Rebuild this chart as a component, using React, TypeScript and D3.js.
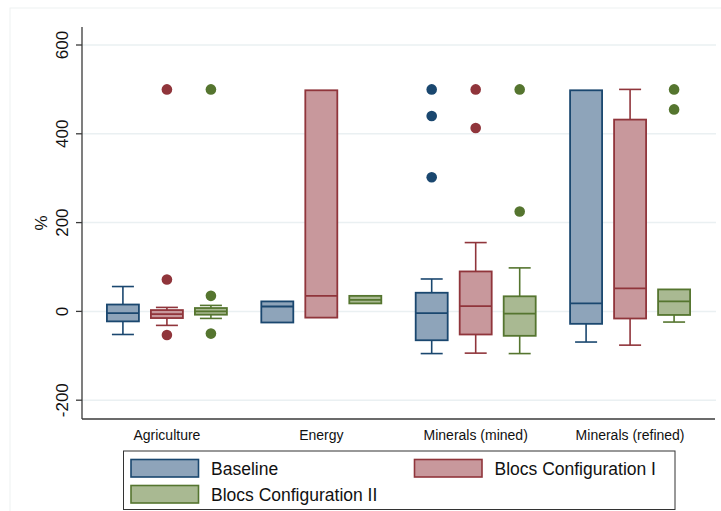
import React from "react";
import * as d3 from "d3";

const categories = ["Agriculture", "Energy", "Minerals (mined)", "Minerals (refined)"];
const seriesNames = ["Baseline", "Blocs Configuration I", "Blocs Configuration II"];
const yTicks = [-200, 0, 200, 400, 600];

// Per-series box statistics, one entry per category
const baselineLow = [-52, -25, -95, -69];
const baselineQ1 = [-22.5, -25, -65, -28];
const baselineMed = [-4, 11, -4, 18];
const baselineQ3 = [15.5, 22.5, 42, 498];
const baselineHigh = [56, 22.5, 73, 498];
const baselineOut = [[], [], [500, 440, 302], []];

const bloc1Low = [-31.5, -14, -94, -76];
const bloc1Q1 = [-15, -14, -52, -16];
const bloc1Med = [-6, 35, 12, 52];
const bloc1Q3 = [3, 498, 90, 432];
const bloc1High = [9, 498, 155, 500];
const bloc1Out = [[500, 72, -53], [], [500, 413], []];

const bloc2Low = [-15.8, 18, -95, -24];
const bloc2Q1 = [-7.4, 18, -55, -8];
const bloc2Med = [0, 26, -5, 22.5];
const bloc2Q3 = [7.6, 35, 34, 49.5];
const bloc2High = [13.5, 35, 98, 49.5];
const bloc2Out = [[500, 35, -50], [], [500, 225], [500, 455]];

const strokes = ["#1a476f", "#90353b", "#55752f"];
const fills = ["#8ea4ba", "#c8989c", "#a9b992"];

const FONT = "'Liberation Sans', Arial, Helvetica, sans-serif";

export default function App() {
  const W = 721;
  const H = 511;
  const plotLeft = 82;
  const plotRight = 715;
  const plotTop = 27;
  const plotBottom = 419;

  const y = d3.scaleLinear().domain([-200, 600]).range([400.2, 45]);
  const x = d3.scalePoint<string>().domain(categories).range([plotLeft, plotRight]).padding(0.55);
  const offsets = d3.scalePoint<number>().domain([0, 1, 2]).range([-44, 44]);
  const boxW = 32;
  const capW = 22;

  const series = [
    { low: baselineLow, q1: baselineQ1, med: baselineMed, q3: baselineQ3, high: baselineHigh, out: baselineOut },
    { low: bloc1Low, q1: bloc1Q1, med: bloc1Med, q3: bloc1Q3, high: bloc1High, out: bloc1Out },
    { low: bloc2Low, q1: bloc2Q1, med: bloc2Med, q3: bloc2Q3, high: bloc2High, out: bloc2Out },
  ];

  const legendItems = [
    { i: 0, sx: 131, sy: 459.5, tx: 211, ty: 474.5 },
    { i: 1, sx: 414.5, sy: 459.5, tx: 494.5, ty: 474.5 },
    { i: 2, sx: 131, sy: 485.5, tx: 211, ty: 500.5 },
  ];

  return (
    <svg
      width={W}
      height={H}
      style={{ position: "absolute", left: 0, top: 0, background: "#ffffff" }}
      fontFamily={FONT}
    >
      <rect x={0} y={0} width={W} height={H} fill="#ffffff" />
      <rect x={10} y={8} width={W} height={H} fill="none" stroke="#eef1f1" strokeWidth={1} />

      {/* gridlines */}
      {yTicks.map((t) => (
        <line key={"g" + t} x1={plotLeft} x2={716} y1={y(t)} y2={y(t)} stroke="#eaf0f2" strokeWidth={1.5} />
      ))}

      {/* axes */}
      <line x1={plotLeft} x2={plotLeft} y1={plotTop} y2={plotBottom} stroke="#3a3a3a" strokeWidth={1.3} />
      <line x1={plotLeft} x2={plotRight} y1={plotBottom} y2={plotBottom} stroke="#3a3a3a" strokeWidth={1.3} />
      {yTicks.map((t) => (
        <g key={"t" + t}>
          <line x1={plotLeft - 6} x2={plotLeft} y1={y(t)} y2={y(t)} stroke="#3a3a3a" strokeWidth={1.3} />
          <text
            transform={`translate(68,${y(t)}) rotate(-90)`}
            textAnchor="middle"
            fontSize={17}
            fill="#111"
          >
            {t}
          </text>
        </g>
      ))}
      <text transform={`translate(47,223) rotate(-90)`} textAnchor="middle" fontSize={17} fill="#111">
        %
      </text>

      {categories.map((c) => (
        <text key={"c" + c} x={x(c)} y={440} textAnchor="middle" fontSize={14} fill="#111">
          {c}
        </text>
      ))}

      {/* boxes */}
      {series.map((s, si) =>
        categories.map((c, ci) => {
          const cx = (x(c) as number) + (offsets(si) as number);
          const col = strokes[si];
          return (
            <g key={`b${si}-${ci}`}>
              {s.high[ci] > s.q3[ci] && (
                <g>
                  <line x1={cx} x2={cx} y1={y(s.q3[ci])} y2={y(s.high[ci])} stroke={col} strokeWidth={1.6} />
                  <line x1={cx - capW / 2} x2={cx + capW / 2} y1={y(s.high[ci])} y2={y(s.high[ci])} stroke={col} strokeWidth={1.6} />
                </g>
              )}
              {s.low[ci] < s.q1[ci] && (
                <g>
                  <line x1={cx} x2={cx} y1={y(s.q1[ci])} y2={y(s.low[ci])} stroke={col} strokeWidth={1.6} />
                  <line x1={cx - capW / 2} x2={cx + capW / 2} y1={y(s.low[ci])} y2={y(s.low[ci])} stroke={col} strokeWidth={1.6} />
                </g>
              )}
              <rect
                x={cx - boxW / 2}
                y={y(s.q3[ci])}
                width={boxW}
                height={y(s.q1[ci]) - y(s.q3[ci])}
                fill={fills[si]}
                stroke={col}
                strokeWidth={1.8}
              />
              <line x1={cx - boxW / 2} x2={cx + boxW / 2} y1={y(s.med[ci])} y2={y(s.med[ci])} stroke={col} strokeWidth={1.8} />
              {s.out[ci].map((v, k) => (
                <circle key={k} cx={cx} cy={y(v)} r={5.3} fill={col} />
              ))}
            </g>
          );
        })
      )}

      {/* legend */}
      <rect x={123.5} y={451} width={551.5} height={58.5} fill="#fff" stroke="#333" strokeWidth={1} />
      {legendItems.map((l) => (
        <g key={"l" + l.i}>
          <rect x={l.sx} y={l.sy} width={67.5} height={17.5} fill={fills[l.i]} stroke={strokes[l.i]} strokeWidth={1.6} />
          <text x={l.tx} y={l.ty} fontSize={17.5} fill="#111">
            {seriesNames[l.i]}
          </text>
        </g>
      ))}
    </svg>
  );
}
